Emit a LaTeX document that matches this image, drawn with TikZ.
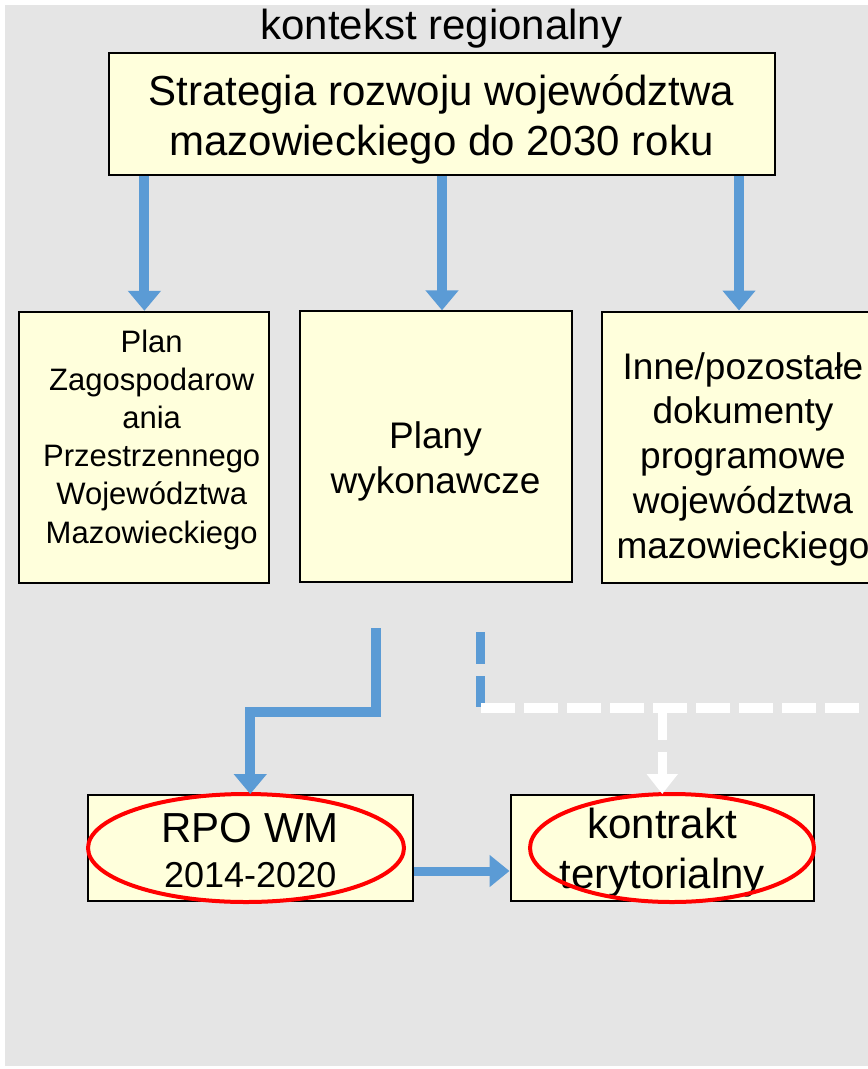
\documentclass[tikz,border=0pt]{standalone}
\usepackage{fontspec}
\setmainfont{Liberation Sans}
\usetikzlibrary{arrows.meta,calc}
\definecolor{bggray}{HTML}{E5E5E5}
\definecolor{boxyellow}{HTML}{FFFFDC}
\definecolor{flowblue}{HTML}{5B9BD5}
\definecolor{ovalred}{HTML}{FF0000}
\tikzset{
  box/.style={draw=black, line width=2pt, fill=boxyellow, align=center, inner sep=0pt},
  txt/.style={align=center, inner sep=0pt},
  bluearrow/.style={draw=flowblue, line width=10pt, -{Triangle[width=32pt,length=20pt]}},
  blueflat/.style={draw=flowblue, line width=9pt, -{Triangle[width=31pt,length=20pt]}},
  bluedash/.style={draw=flowblue, line width=9pt, dash pattern=on 32pt off 12pt},
  whitedash/.style={draw=white, line width=10pt, dash pattern=on 34pt off 9pt},
  whitearrow/.style={draw=white, line width=9pt, dash pattern=on 37pt off 12pt, -{Triangle[width=30pt,length=20pt]}},
  oval/.style={draw=ovalred, line width=4pt},
}
\begin{document}
\begin{tikzpicture}[x=1pt,y=-1pt]
\useasboundingbox (0,0) rectangle (868,1069);
\clip (0,0) rectangle (868,1069);
\fill[white] (0,0) rectangle (868,1069);
\fill[bggray] (5,5) rectangle (868,1066);

\node[txt, anchor=base, font=\fontsize{42}{50}\selectfont] (title) at (441.5,39) {kontekst regionalny};

\node[box, minimum width=666pt, minimum height=122pt, font=\fontsize{42}{50}\selectfont, text height=91pt, text depth=9pt] (strat) at (441.5,114) {Strategia rozwoju województwa\\mazowieckiego do 2030 roku};

\node[box, minimum width=250pt, minimum height=271pt] (plan) at (144.4,447.3) {};
\node[txt, font=\fontsize{31}{38.2}\selectfont, text height=213pt, text depth=6.5pt] (plantext) at (151.7,439.75) {Plan\\Zagospodarow\\ania\\Przestrzennego\\Województwa\\Mazowieckiego};

\node[box, minimum width=272pt, minimum height=271pt, font=\fontsize{37}{45}\selectfont, text height=100pt, text depth=7pt] (wyk) at (435.5,446.8) {Plany\\wykonawcze};

\node[box, minimum width=282pt, minimum height=271pt, font=\fontsize{37}{44.75}\selectfont, text height=230pt, text depth=8pt] (inne) at (743,447) {Inne/pozostałe\\dokumenty\\programowe\\województwa\\mazowieckiego};

\node[box, minimum width=325pt, minimum height=106pt, font=\fontsize{42}{45}\selectfont, text height=86pt, text depth=8pt] (rpo) at (250.25,848) {RPO WM\\{\fontsize{36}{45}\selectfont 2014-2020}};

\node[box, minimum width=303.5pt, minimum height=106pt, font=\fontsize{42}{50}\selectfont, text height=86pt, text depth=6pt] (kon) at (662.25,848) {kontrakt\\terytorialny};

\draw[oval] (246,848) ellipse [x radius=158, y radius=54];
\draw[oval] (672,848) ellipse [x radius=142, y radius=54];

\draw[bluearrow] (strat.south -| plan.north) -- (plan.north);
\draw[bluearrow] ($(strat.south -| wyk.north)+(6.5,0)$) -- ($(wyk.north)+(6.5,0)$);
\draw[bluearrow] ($(strat.south -| inne.north)+(-4,0)$) -- ($(inne.north)+(-4,0)$);

\coordinate (feedA) at (376,628);
\coordinate (bendA) at (250.25,712);
\draw[bluearrow] (feedA) |- (bendA) -- (rpo.north);

\coordinate (dashTop) at (480,632);
\coordinate (dashBot) at (480,707);
\draw[bluedash] (dashTop) -- (dashBot);

\coordinate (wStart) at (481,708);
\coordinate (wEnd) at (875,708);
\draw[whitedash] (wStart) -- (wEnd);
\coordinate (wJoin) at (662.25,703);
\draw[whitearrow] (wJoin) -- (kon.north);

\draw[blueflat] ($(rpo.east)+(0,23)$) -- ($(kon.west)+(0,23)$);
\end{tikzpicture}
\end{document}
